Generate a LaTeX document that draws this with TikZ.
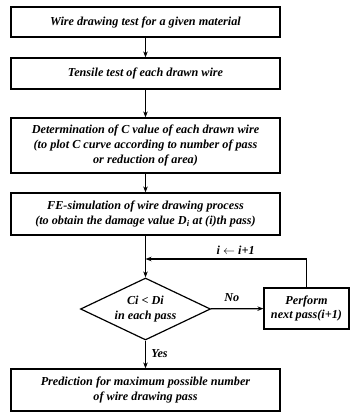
\documentclass[tikz,border=0pt]{standalone}
\usepackage{fontspec}
\setmainfont{Liberation Serif}
\usetikzlibrary{shapes.geometric,arrows.meta}
\tikzset{
  stepbox/.style={draw,line width=1.2pt,minimum width=269pt,align=center,inner sep=1pt,font=\fontsize{12.2}{14.6}\selectfont\bfseries\itshape},
  testbox/.style={draw,diamond,line width=1.2pt,aspect=2.1,inner sep=0pt,minimum width=130pt,minimum height=62pt,align=center,font=\fontsize{12.2}{14.6}\selectfont\bfseries\itshape},
  flow/.style={line width=1.2pt,-{Stealth[length=6pt,width=4.5pt]}},
  lbl/.style={font=\fontsize{12.2}{14.6}\selectfont\bfseries\itshape}
}
\begin{document}
\begin{tikzpicture}[x=1pt,y=-1pt]
\pgfmathsetmacro{\kcx}{145.5}
\useasboundingbox (0,0) rectangle (350,416);
\node[stepbox,minimum height=30pt](wire) at (\kcx,22){Wire drawing test for a given material};
\node[stepbox,minimum height=31pt](tens) at (\kcx,73.5){Tensile test of each drawn wire};
\node[stepbox,minimum height=55pt](cval) at (\kcx,145.5){Determination of C value of each drawn wire\\(to plot C curve according to number of pass\\or reduction of area)};
\node[stepbox,minimum height=42pt](fesim) at (\kcx,214){FE-simulation of wire drawing process\\(to obtain the damage value D\textsubscript{i} at (i)th pass)};
\node[testbox](check) at (\kcx,309){Ci {\normalfont\bfseries\itshape<} Di\\in each pass};
\node[stepbox,minimum width=85pt,minimum height=41pt](next) at (306.5,308.5){Perform\\next pass(i+1)};
\node[stepbox,minimum height=42pt](pred) at (\kcx,390){Prediction for maximum possible number\\of wire drawing pass};
\coordinate(join) at (\kcx,259);
% main line
\draw[flow](wire)--(tens);
\draw[flow](tens)--(cval);
\draw[flow](cval)--(fesim);
\draw[flow](fesim)--(check);
\draw[flow](check)--(next)node[lbl,pos=0.4,above=3pt]{No};
\draw[flow](check)--(pred)node[lbl,pos=0.45,right=2pt]{Yes};
% loop back
\draw[flow](next.north)|-(join)node[lbl,pos=0.72,above=1pt]{i $\leftarrow$ i+1};
\end{tikzpicture}
\end{document}
